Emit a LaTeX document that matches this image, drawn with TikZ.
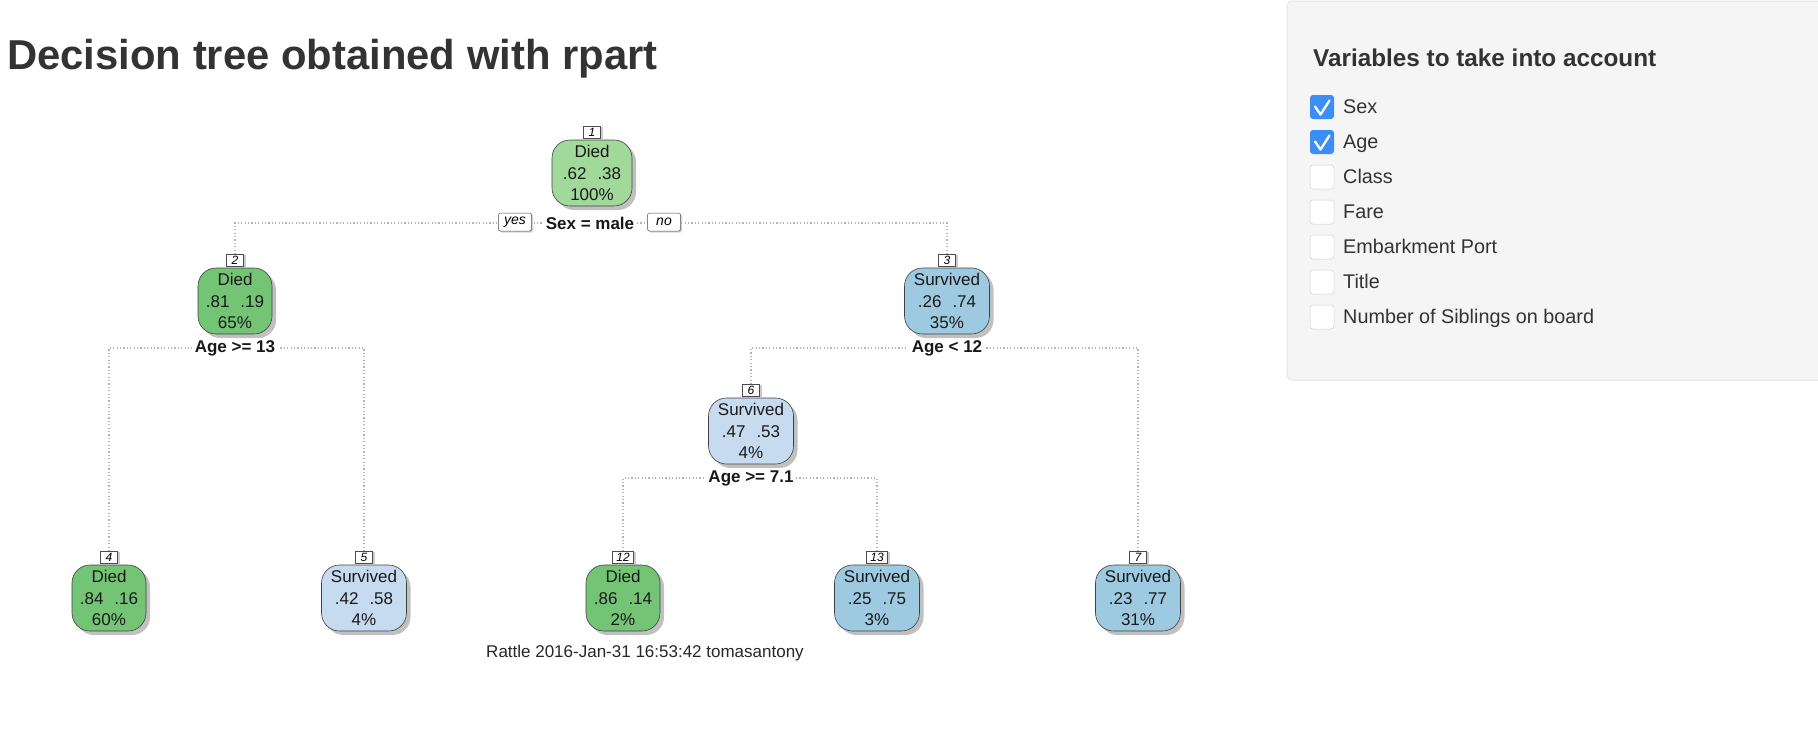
\documentclass[tikz,border=0pt]{standalone}
\usepackage{fontspec}
\setmainfont{Liberation Sans}
\usetikzlibrary{shadows,backgrounds}
\definecolor{diedA}{HTML}{A1D99B}
\definecolor{diedB}{HTML}{74C476}
\definecolor{survA}{HTML}{9ECAE1}
\definecolor{survB}{HTML}{C6DBEF}
\definecolor{ink}{HTML}{333333}
\definecolor{panelbg}{HTML}{F5F5F5}
\definecolor{panelline}{HTML}{E3E3E3}
\definecolor{cbblue}{HTML}{3B8EF5}
\definecolor{connc}{HTML}{B4B4B4}
\newcommand\setfs[2]{\fontsize{#1}{#2}\selectfont}
\begin{document}
\begin{tikzpicture}[x=1pt,y=-1pt,
  tnode/.style={draw=black!75, line width=0.6pt, rounded corners=18pt, minimum height=66pt,
    align=center, inner sep=0pt, font=\setfs{17}{21.5}, text=black!90,
    drop shadow={shadow xshift=4pt, shadow yshift=-4pt, fill=black!45, opacity=0.55}},
  died/.style={tnode, minimum width=74pt},
  surv/.style={tnode, minimum width=85pt},
  numbox/.style={draw=black!70, line width=0.5pt, fill=white, inner sep=0pt, minimum height=12pt,
    minimum width=17pt, font=\setfs{12}{12}\itshape, anchor=south,
    drop shadow={shadow xshift=2.5pt, shadow yshift=-1pt, fill=black!40, opacity=0.5}},
  splitlab/.style={font=\setfs{17}{17}\bfseries, fill=white, inner sep=2.5pt, text=black!90},
  yn/.style={draw=black!70, line width=0.5pt, fill=white, rounded corners=2pt, font=\setfs{14}{14}\itshape,
    minimum width=33pt, minimum height=18pt, inner sep=0pt,
    drop shadow={shadow xshift=1.5pt, shadow yshift=-1.5pt, fill=black!35, opacity=0.5}},
  conn/.style={draw=connc, line width=1.2pt, dash pattern=on 1.2pt off 2.2pt},
  cbon/.style={fill=cbblue, minimum size=24pt, rounded corners=3pt, inner sep=0pt},
  cboff/.style={fill=white, draw=black!18, line width=0.5pt, minimum size=24pt, rounded corners=3pt, inner sep=0pt},
  cblab/.style={anchor=base west, font=\setfs{19.8}{19.8}, text=ink, inner sep=0pt},
  tick/.style={draw=white, line width=2.3pt, line cap=round, line join=round}
]
\useasboundingbox (0,0) rectangle (1818,732);

% title
\node[anchor=base west, inner sep=0pt, font=\setfs{41.8}{41.8}\bfseries, text=ink] (title) at (7,69) {Decision tree obtained with rpart};

% side panel
\begin{scope}
\clip (0,0) rectangle (1818,732);
\draw[fill=panelbg, draw=panelline, line width=1pt, rounded corners=5pt] (1287,1) rectangle (1840,380);
\end{scope}
\node[anchor=base west, inner sep=0pt, font=\setfs{24.3}{24.3}\bfseries, text=ink] (head) at (1313,66) {Variables to take into account};

\node[cbon] (cb1) at (1322,107) {};
\node[cbon] (cb2) at (1322,142) {};
\node[cboff] (cb3) at (1322,177) {};
\node[cboff] (cb4) at (1322,212) {};
\node[cboff] (cb5) at (1322,247) {};
\node[cboff] (cb6) at (1322,282) {};
\node[cboff] (cb7) at (1322,317) {};
\draw[tick] ([xshift=-7pt,yshift=0.5pt]cb1.center) -- ([xshift=-1.5pt,yshift=-7.5pt]cb1.center) -- ([xshift=7.5pt,yshift=6.5pt]cb1.center);
\draw[tick] ([xshift=-7pt,yshift=0.5pt]cb2.center) -- ([xshift=-1.5pt,yshift=-7.5pt]cb2.center) -- ([xshift=7.5pt,yshift=6.5pt]cb2.center);
\node[cblab] (l1) at (1343,113) {Sex};
\node[cblab] (l2) at (1343,148) {Age};
\node[cblab] (l3) at (1343,183) {Class};
\node[cblab] (l4) at (1343,218) {Fare};
\node[cblab] (l5) at (1343,253) {Embarkment Port};
\node[cblab] (l6) at (1343,288) {Title};
\node[cblab] (l7) at (1343,323) {Number of Siblings on board};

% tree nodes
\node[tnode, fill=diedA, minimum width=80pt] (n1) at (592,173) {Died\\.62\hspace{11pt}.38\\100\%};
\node[died, fill=diedB] (n2) at (235,301) {Died\\.81\hspace{11pt}.19\\65\%};
\node[surv, fill=survA] (n3) at (947,301) {Survived\\.26\hspace{11pt}.74\\35\%};
\node[died, fill=diedB] (n4) at (109,598) {Died\\.84\hspace{11pt}.16\\60\%};
\node[surv, fill=survB] (n5) at (364,598) {Survived\\.42\hspace{11pt}.58\\4\%};
\node[surv, fill=survB] (n6) at (751,431) {Survived\\.47\hspace{11pt}.53\\4\%};
\node[died, fill=diedB] (n12) at (623,598) {Died\\.86\hspace{11pt}.14\\2\%};
\node[surv, fill=survA] (n13) at (877,598) {Survived\\.25\hspace{11pt}.75\\3\%};
\node[surv, fill=survA] (n7) at (1138,598) {Survived\\.23\hspace{11pt}.77\\31\%};

% number boxes
\node[numbox] (b1) at ([yshift=1pt]n1.north) {1};
\node[numbox] (b2) at ([yshift=1pt]n2.north) {2};
\node[numbox] (b3) at ([yshift=1pt]n3.north) {3};
\node[numbox] (b4) at ([yshift=1pt]n4.north) {4};
\node[numbox] (b5) at ([yshift=1pt]n5.north) {5};
\node[numbox] (b6) at ([yshift=1pt]n6.north) {6};
\node[numbox, minimum width=21pt] (b12) at ([yshift=1pt]n12.north) {12};
\node[numbox, minimum width=21pt] (b13) at ([yshift=1pt]n13.north) {13};
\node[numbox] (b7) at ([yshift=1pt]n7.north) {7};

% split labels
\node[splitlab] (s1) at (590,223) {Sex = male};
\node[yn] (yes) at (515,222) {yes};
\node[yn] (no) at (664,222) {no};
\node[splitlab] (s2) at (235,348) {Age >= 13};
\node[splitlab] (s3) at (947,348) {Age < 12};
\node[splitlab] (s4) at (751,478) {Age >= 7.1};

% footer
\node[inner sep=0pt, font=\setfs{17}{17}, text=black!85] (foot) at (645,653) {Rattle 2016-Jan-31 16:53:42 tomasantony};

% connectors
\begin{pgfonlayer}{background}
\draw[conn] (b2.north) |- (s1.center);
\draw[conn] (b3.north) |- (s1.center);
\draw[conn] (b4.north) |- (s2.center);
\draw[conn] (b5.north) |- (s2.center);
\draw[conn] (b6.north) |- (s3.center);
\draw[conn] (b7.north) |- (s3.center);
\draw[conn] (b12.north) |- (s4.center);
\draw[conn] (b13.north) |- (s4.center);
\end{pgfonlayer}
\end{tikzpicture}
\end{document}
